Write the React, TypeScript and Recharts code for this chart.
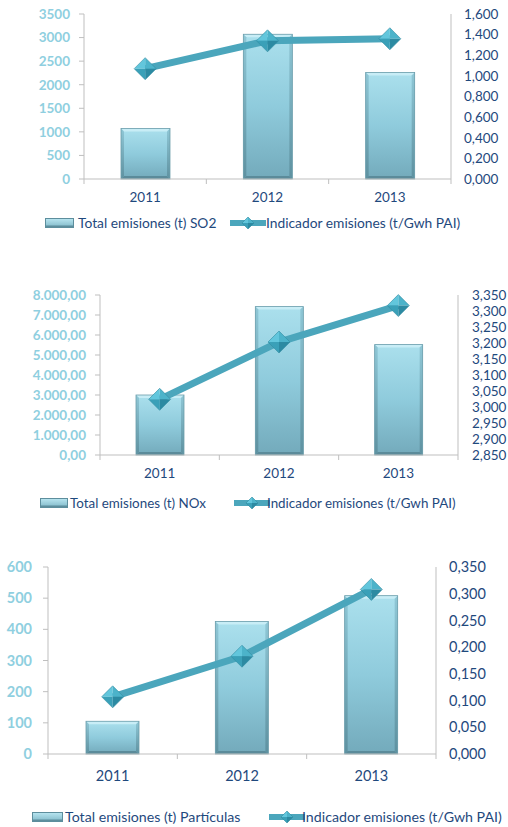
import React from 'react';
import { ComposedChart, Bar, Line, XAxis, YAxis, Legend } from 'recharts';

// Categories
const years = ['2011', '2012', '2013'];

// SO2 panel
const so2Total = [1070, 3070, 2260];
const so2Indicator = [1.07, 1.34, 1.36];
const so2LeftTicks = [0, 500, 1000, 1500, 2000, 2500, 3000, 3500];
const so2RightTicks = [0, 0.2, 0.4, 0.6, 0.8, 1.0, 1.2, 1.4, 1.6];

// NOx panel
const noxTotal = [3000, 7420, 5520];
const noxIndicator = [3.024, 3.203, 3.317];
const noxLeftTicks = [0, 1000, 2000, 3000, 4000, 5000, 6000, 7000, 8000];
const noxRightTicks = [2.85, 2.9, 2.95, 3.0, 3.05, 3.1, 3.15, 3.2, 3.25, 3.3, 3.35];

// Particles panel
const pmTotal = [105, 425, 508];
const pmIndicator = [0.107, 0.183, 0.308];
const pmLeftTicks = [0, 100, 200, 300, 400, 500, 600];
const pmRightTicks = [0, 0.05, 0.1, 0.15, 0.2, 0.25, 0.3, 0.35];

// Series names
const so2Name = 'Total emisiones (t) SO2';
const noxName = 'Total emisiones (t) NOx';
const pmName = 'Total emisiones (t) Partículas';
const indicatorName = 'Indicador emisiones (t/Gwh PAI)';

const FONT = 'Lato, "Open Sans", sans-serif';
const DARK = '#1f497d';
const LIGHT = '#8fcfe0';
const AXIS = '#bfbfbf';
const LINE = '#4ba6bc';
const W = 508;

const fmtPlain = (v: number) => String(v);
const fmtComma3 = (v: number) => v.toFixed(3).replace('.', ',');
const fmtEs2 = (v: number) => {
  const [i, d] = v.toFixed(2).split('.');
  return i.replace(/\B(?=(\d{3})+(?!\d))/g, '.') + ',' + d;
};

function Gradients({ id }: { id: string }) {
  return (
    <defs>
      <linearGradient id={`${id}-body`} x1="0" y1="0" x2="0" y2="1">
        <stop offset="0%" stopColor="#abe0ed" />
        <stop offset="50%" stopColor="#8fcbdc" />
        <stop offset="100%" stopColor="#73aabb" />
      </linearGradient>
      <linearGradient id={`${id}-side`} x1="0" y1="0" x2="0" y2="1">
        <stop offset="0%" stopColor="#8fc7d6" />
        <stop offset="100%" stopColor="#5e91a0" />
      </linearGradient>
    </defs>
  );
}

const makeBarShape = (gid: string) => (props: any) => {
  const { x, y, width, height } = props;
  if (!height || height <= 0) return <g />;
  const b = Math.min(3, width / 6, height / 6);
  const x2 = x + width;
  const y2 = y + height;
  return (
    <g>
      <rect x={x} y={y} width={width} height={height} fill={`url(#${gid}-body)`} />
      <polygon points={`${x},${y} ${x2},${y} ${x2 - b},${y + b} ${x + b},${y + b}`} fill="#c8edf6" />
      <polygon points={`${x},${y} ${x + b},${y + b} ${x + b},${y2 - b} ${x},${y2}`} fill={`url(#${gid}-side)`} />
      <polygon points={`${x2},${y} ${x2 - b},${y + b} ${x2 - b},${y2 - b} ${x2},${y2}`} fill={`url(#${gid}-side)`} />
      <polygon points={`${x},${y2} ${x + b},${y2 - b} ${x2 - b},${y2 - b} ${x2},${y2}`} fill="#5b8b9a" />
      <rect x={x} y={y} width={width} height={height} fill="none" stroke="#6c9dab" strokeWidth={0.8} />
    </g>
  );
};

function Diamond({ cx, cy, r }: { cx: number; cy: number; r: number }) {
  const t = `${cx},${cy - r}`;
  const rt = `${cx + r},${cy}`;
  const bt = `${cx},${cy + r}`;
  const lf = `${cx - r},${cy}`;
  const c = `${cx},${cy}`;
  return (
    <g>
      <polygon points={`${t} ${lf} ${c}`} fill="#62c6dc" />
      <polygon points={`${t} ${rt} ${c}`} fill="#4cb3ca" />
      <polygon points={`${lf} ${bt} ${c}`} fill="#3aa0b8" />
      <polygon points={`${rt} ${bt} ${c}`} fill="#2c8aa2" />
      <polygon points={`${t} ${rt} ${bt} ${lf}`} fill="none" stroke="#2f8ba1" strokeWidth={0.6} />
    </g>
  );
}

const renderDot = (props: any) => {
  const { cx, cy, index } = props;
  if (cx == null || cy == null) return <g key={index} />;
  return <Diamond key={index} cx={cx} cy={cy} r={11} />;
};

function XTick(props: any) {
  const { x, y, payload, index, band, count, fontSize, labelDy } = props;
  const half = band / 2;
  return (
    <g>
      <line x1={x - half} y1={y} x2={x - half} y2={y + 5} stroke={AXIS} />
      {index === count - 1 && <line x1={x + half} y1={y} x2={x + half} y2={y + 5} stroke={AXIS} />}
      <text
        x={x}
        y={y + labelDy}
        textAnchor="middle"
        dominantBaseline="central"
        fill={DARK}
        fontSize={fontSize}
        fontFamily={FONT}
      >
        {payload.value}
      </text>
    </g>
  );
}

function LegendBody({ barName, pos, fontSize, gid }: any) {
  const textStyle: React.CSSProperties = {
    position: 'absolute',
    top: 0,
    height: 20,
    lineHeight: '20px',
    fontSize,
    fontFamily: FONT,
    color: DARK,
    whiteSpace: 'nowrap',
  };
  return (
    <div style={{ position: 'relative', width: W, height: 20 }}>
      <svg style={{ position: 'absolute', left: pos.barIcon, top: 5 }} width={pos.barIconW} height={10}>
        <defs>
          <linearGradient id={`${gid}-leg`} x1="0" y1="0" x2="0" y2="1">
            <stop offset="0%" stopColor="#b9e6f1" />
            <stop offset="100%" stopColor="#7fb8c8" />
          </linearGradient>
        </defs>
        <rect x={0.5} y={0.5} width={pos.barIconW - 1} height={9} fill={`url(#${gid}-leg)`} stroke="#5d8e9d" />
        <rect x={0.5} y={7.5} width={pos.barIconW - 1} height={2} fill="#5d8e9d" />
      </svg>
      <span style={{ ...textStyle, left: pos.barText }}>{barName}</span>
      <svg style={{ position: 'absolute', left: pos.lineIcon, top: 2 }} width={36} height={16}>
        <line x1={0} y1={8} x2={36} y2={8} stroke={LINE} strokeWidth={6} strokeLinecap="round" />
        <Diamond cx={18} cy={8} r={6} />
      </svg>
      <span style={{ ...textStyle, left: pos.lineText }}>{indicatorName}</span>
    </div>
  );
}

function Panel(p: any) {
  const data = years.map((year, i) => ({ year, total: p.totals[i], indicator: p.indicator[i] }));
  const plotWidth = W - p.leftWidth - p.rightWidth;
  const band = plotWidth / years.length;
  const leftMax = p.leftTicks[p.leftTicks.length - 1];
  const rightMin = p.rightTicks[0];
  const rightMax = p.rightTicks[p.rightTicks.length - 1];
  return (
    <div style={{ position: 'absolute', left: 0, top: p.top, width: W, height: p.height }}>
      <ComposedChart
        width={W}
        height={p.height}
        data={data}
        margin={{ top: p.marginTop, right: 0, bottom: p.marginBottom, left: 0 }}
      >
        <Gradients id={p.id} />
        <XAxis
          dataKey="year"
          height={30}
          interval={0}
          axisLine={{ stroke: AXIS }}
          tickLine={false}
          tickSize={0}
          tickMargin={0}
          tick={(tp: any) => (
            <XTick {...tp} band={band} count={years.length} fontSize={p.fontSize} labelDy={p.labelDy} />
          )}
        />
        <YAxis
          yAxisId="left"
          orientation="left"
          width={p.leftWidth}
          domain={[0, leftMax]}
          ticks={p.leftTicks}
          interval={0}
          tickFormatter={p.leftFmt}
          axisLine={{ stroke: AXIS }}
          tickLine={{ stroke: AXIS }}
          tickSize={5}
          tickMargin={p.leftGap}
          tick={{ fill: LIGHT, fontSize: p.fontSize, fontWeight: 700, fontFamily: FONT }}
        />
        <YAxis
          yAxisId="right"
          orientation="right"
          width={p.rightWidth}
          domain={[rightMin, rightMax]}
          ticks={p.rightTicks}
          interval={0}
          tickFormatter={p.rightFmt}
          axisLine={{ stroke: AXIS }}
          tickLine={false}
          tickSize={0}
          tickMargin={p.rightGap}
          tick={{ fill: DARK, fontSize: p.fontSize, fontFamily: FONT }}
        />
        <Bar
          yAxisId="left"
          dataKey="total"
          name={p.barName}
          barSize={p.barSize}
          shape={makeBarShape(p.id)}
          isAnimationActive={false}
        />
        <Line
          yAxisId="right"
          type="linear"
          dataKey="indicator"
          name={indicatorName}
          stroke={LINE}
          strokeWidth={7}
          dot={renderDot}
          activeDot={false}
          isAnimationActive={false}
        />
        <Legend
          layout="horizontal"
          verticalAlign="middle"
          align="center"
          wrapperStyle={{ top: p.legendTop, left: 0, width: W, height: 20 }}
          content={() => (
            <LegendBody barName={p.barName} pos={p.legendPos} fontSize={p.legendFont} gid={p.id} />
          )}
        />
      </ComposedChart>
    </div>
  );
}

export default function App() {
  return (
    <div
      style={{
        position: 'absolute',
        left: 0,
        top: 0,
        width: W,
        height: 827,
        overflow: 'hidden',
        background: '#ffffff',
      }}
    >
      <Panel
        id="so2"
        top={0}
        height={240}
        marginTop={14}
        marginBottom={31}
        leftWidth={84}
        rightWidth={57}
        leftGap={9}
        rightGap={13}
        fontSize={13.5}
        labelDy={18}
        barSize={49}
        totals={so2Total}
        indicator={so2Indicator}
        leftTicks={so2LeftTicks}
        rightTicks={so2RightTicks}
        leftFmt={fmtPlain}
        rightFmt={fmtComma3}
        barName={so2Name}
        legendTop={213}
        legendFont={13.8}
        legendPos={{ barIcon: 45, barIconW: 29, barText: 78, lineIcon: 230, lineText: 266 }}
      />
      <Panel
        id="nox"
        top={270}
        height={250}
        marginTop={25}
        marginBottom={35}
        leftWidth={100}
        rightWidth={50}
        leftGap={9}
        rightGap={14}
        fontSize={13.5}
        labelDy={18}
        barSize={48}
        totals={noxTotal}
        indicator={noxIndicator}
        leftTicks={noxLeftTicks}
        rightTicks={noxRightTicks}
        leftFmt={fmtEs2}
        rightFmt={fmtComma3}
        barName={noxName}
        legendTop={223}
        legendFont={13.4}
        legendPos={{ barIcon: 40, barIconW: 28, barText: 70, lineIcon: 234, lineText: 267 }}
      />
      <Panel
        id="pm"
        top={550}
        height={277}
        marginTop={17}
        marginBottom={43}
        leftWidth={48}
        rightWidth={72}
        leftGap={11}
        rightGap={13}
        fontSize={14.5}
        labelDy={21}
        barSize={53}
        totals={pmTotal}
        indicator={pmIndicator}
        leftTicks={pmLeftTicks}
        rightTicks={pmRightTicks}
        leftFmt={fmtPlain}
        rightFmt={fmtComma3}
        barName={pmName}
        legendTop={257}
        legendFont={14.2}
        legendPos={{ barIcon: 32, barIconW: 31, barText: 65, lineIcon: 269, lineText: 302 }}
      />
    </div>
  );
}
